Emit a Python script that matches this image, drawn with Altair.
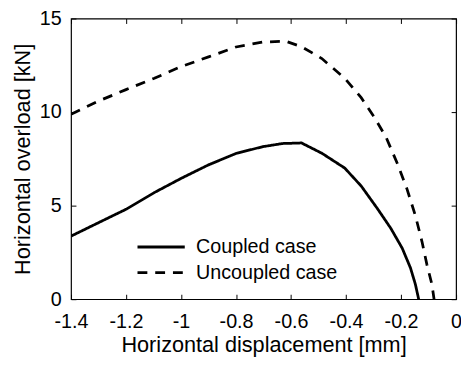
import altair as alt
import pandas as pd

coupled_x = [-1.4, -1.3, -1.198, -1.097, -0.998, -0.9, -0.798, -0.703, -0.631, -0.562,
             -0.488, -0.405, -0.345, -0.285, -0.237, -0.196, -0.166, -0.148, -0.136]
coupled_y = [3.37, 4.09, 4.82, 5.70, 6.47, 7.18, 7.80, 8.15, 8.32, 8.35,
             7.80, 7.01, 6.05, 4.82, 3.78, 2.73, 1.68, 0.80, 0.0]

uncoupled_x = [-1.4, -1.3, -1.2, -1.097, -1.0, -0.9, -0.8, -0.703, -0.62, -0.56,
               -0.488, -0.405, -0.345, -0.297, -0.255, -0.214, -0.178, -0.148,
               -0.124, -0.106, -0.088, -0.08]
uncoupled_y = [9.89, 10.59, 11.2, 11.81, 12.43, 12.95, 13.48, 13.74, 13.79, 13.48,
               12.86, 11.81, 10.77, 9.72, 8.67, 7.27, 5.87, 4.47,
               3.08, 1.85, 0.80, 0.0]

series_names = ["Coupled case", "Uncoupled case"]
x_ticks = [-1.4, -1.2, -1.0, -0.8, -0.6, -0.4, -0.2, 0]
y_ticks = [0, 5, 10, 15]

rows = []
for i, (xs, ys) in enumerate([(coupled_x, coupled_y), (uncoupled_x, uncoupled_y)]):
    for k, (a, b) in enumerate(zip(xs, ys)):
        rows.append({"x": a, "y": b, "case": series_names[i], "order": k})
df = pd.DataFrame(rows)

FONT = "Liberation Sans"

xscale = alt.Scale(domain=[-1.4, 0], nice=False, zero=False)
yscale = alt.Scale(domain=[0, 15], nice=False)

lines = alt.Chart(df).mark_line(strokeWidth=2.8, color="black", clip=True).encode(
    x=alt.X("x:Q", scale=xscale,
            axis=alt.Axis(values=x_ticks, labelExpr="'' + datum.value",
                          title="Horizontal displacement [mm]", orient="bottom",
                          offset=-5, tickSize=5, labelPadding=13, titlePadding=3,
                          labelFlush=False, labelOverlap=False,
                          domain=False, grid=False)),
    y=alt.Y("y:Q", scale=yscale,
            axis=alt.Axis(values=y_ticks, title="Horizontal overload [kN]", orient="left",
                          offset=-5, tickSize=5, labelPadding=10, titlePadding=5,
                          labelFlush=False, labelOverlap=False,
                          domain=False, grid=False)),
    strokeDash=alt.StrokeDash(
        "case:N",
        scale=alt.Scale(domain=series_names, range=[[1, 0], [10, 8]]),
        legend=alt.Legend(title=None, orient="none", legendX=66, legendY=220,
                          symbolType="stroke", symbolSize=2304, symbolStrokeWidth=2.8,
                          symbolStrokeColor="black", labelFontSize=20, labelFont=FONT,
                          labelOffset=10, clipHeight=24, rowPadding=2, padding=0,
                          labelColor="black"),
    ),
    order="order:Q",
)

ghost = alt.Chart(df).mark_point(opacity=0).encode(
    x=alt.X("x:Q", scale=xscale,
            axis=alt.Axis(values=x_ticks, orient="top", labels=False, title=None,
                          offset=-5, tickSize=5, domain=False, grid=False)),
    y=alt.Y("y:Q", scale=yscale,
            axis=alt.Axis(values=y_ticks, orient="right", labels=False, title=None,
                          offset=-5, tickSize=5, domain=False, grid=False)),
)

chart = alt.layer(lines, ghost).resolve_axis(x="independent", y="independent").properties(
    width=391, height=285,
    autosize=alt.AutoSizeParams(type="none"),
    padding={"left": 64, "top": 8, "right": 5, "bottom": 56},
    background="white",
).configure_view(stroke="black", strokeWidth=1.2).configure_axis(
    labelFont=FONT, titleFont=FONT, labelFontSize=20, titleFontSize=22,
    labelColor="black", titleColor="black", tickColor="black", tickWidth=1,
    titleFontWeight="normal",
)

chart.save("out.html", embed_options={"renderer": "svg", "actions": False})
